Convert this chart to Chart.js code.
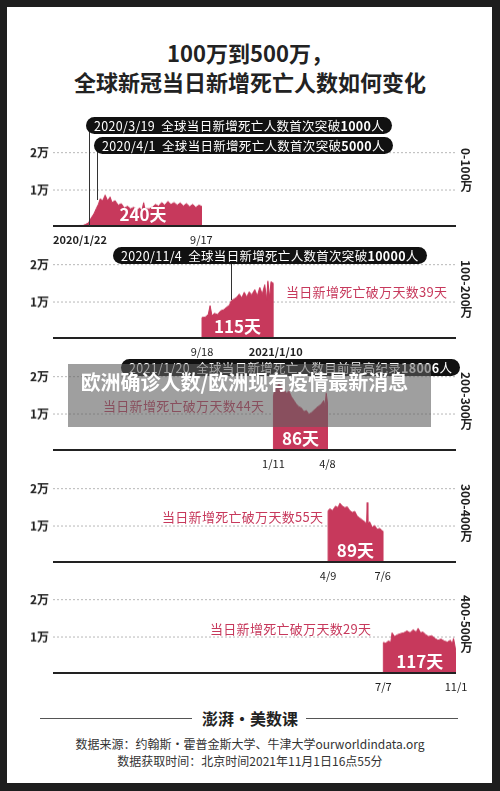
<!DOCTYPE html>
<html><head><meta charset="utf-8">
<script src="https://cdn.jsdelivr.net/npm/chart.js@4"></script>
<style>
body{margin:0;background:#1e1e1e;font-family:"Noto Sans CJK SC","Noto Sans",sans-serif;}
#frame{position:absolute;left:7px;top:7px;width:485px;height:776px;background:#fff;}
#root{position:absolute;left:0;top:0;width:500px;height:791px;}
.t{position:absolute;white-space:nowrap;}
canvas{position:absolute;left:0;}
.pill{position:absolute;background:#111;color:#fff;border-radius:9px;font-size:12.5px;line-height:17px;height:17px;padding:0 8px;white-space:nowrap;letter-spacing:0.3px;}
.vl{position:absolute;width:1px;background:#333;}
.red{position:absolute;color:#c7395c;font-size:13px;white-space:nowrap;letter-spacing:0.3px;}
.days{position:absolute;color:#fff;font-weight:700;font-size:17px;line-height:20px;transform:translateX(-50%);white-space:nowrap;}
.xl{position:absolute;font-size:11px;color:#222;transform:translateX(-50%);}
.rl{position:absolute;writing-mode:vertical-rl;font-size:12px;color:#222;font-weight:600;}
.base{position:absolute;left:53px;width:403px;height:2px;background:#222;}
</style></head><body>
<div id="frame"></div>
<div id="root">
<div class="t" style="left:0;width:500px;text-align:center;top:36px;font-size:22px;font-weight:700;color:#222">100万到500万，</div>
<div class="t" style="left:0;width:500px;text-align:center;top:65px;font-size:22px;font-weight:700;color:#222">全球新冠当日新增死亡人数如何变化</div>
</div>
<script>
const yTicks=[0,10000,20000];
const tickLabels=['','1万','2万'];
const panelRanges=['0-100万','100-200万','200-300万','300-400万','400-500万'];
const dayCounts=['240天','115天','86天','89天','117天'];
const redLabels=[null,'当日新增死亡破万天数39天','当日新增死亡破万天数44天','当日新增死亡破万天数55天','当日新增死亡破万天数29天'];
const startLabels=['2020/1/22','9/18','1/11','4/9','7/7'];
const endLabels=['9/17','2021/1/10','4/8','7/6','11/1'];

const p1Days=[0,40,48,52,57,62,66,70,73,76,80,84,88,92,95,100,105,110,115,120,125,130,135,140,143,146,148,155,160,165,170,175,180,185,190,195,200,205,210,215,220,225,230,235,239,239];
const p1Deaths=[0,100,300,600,1000,2500,3500,5000,6000,7500,7000,8500,7000,8000,6500,7000,5800,6200,5000,5500,4800,5200,4500,5000,4200,6500,4800,4800,5200,6000,5500,6500,5800,6800,6000,6500,5800,6400,5600,6200,5400,6000,5200,5800,5500,0];
const p2Days=[240,240,245,250,253,256,260,265,270,275,280,284,287,290,295,300,304,308,312,316,320,325,329,333,337,341,344,346,349,351,354,354];
const p2Deaths=[0,5700,5800,6500,8900,6200,6800,6500,7500,7800,8500,9000,10200,10500,11000,12000,11000,12500,11200,12600,11800,13200,11500,13800,12000,14500,10500,15500,11000,15300,15000,0];
const p3Days=[355,355,358,362,364,368,372,376,380,384,388,392,396,400,404,408,412,416,420,424,428,432,436,438,440,442,442];
const p3Deaths=[0,15000,16500,17500,18006,17000,16500,15500,16000,14500,13500,12500,11800,11500,10500,10800,9800,10200,10800,11500,12000,12500,13500,12000,15500,13000,0];
const p4Days=[443,443,446,450,455,459,462,466,470,474,478,482,486,490,494,498,502,505,506,507,510,514,518,522,526,529,531,531];
const p4Deaths=[0,14000,14500,14000,15200,14800,16000,15200,14800,15000,14000,13500,13800,12500,12000,11500,11000,10500,16200,10500,11000,9500,10000,9000,9200,8800,8500,0];
const p5Days=[532,532,536,540,544,546,550,555,560,565,570,575,580,585,588,592,596,600,605,610,615,620,625,630,635,640,643,645,647,649,649];
const p5Deaths=[0,8400,8200,8800,8500,11000,10000,10500,10800,11000,11500,11000,11800,11200,12200,11000,11200,10500,10000,10200,9500,9000,9300,8800,8500,9000,8000,9500,7800,5700,0];
const totalDays=649;

const panels=[[p1Days,p1Deaths],[p2Days,p2Deaths],[p3Days,p3Deaths],[p4Days,p4Deaths],[p5Days,p5Deaths]];
const baselines=[226,338,450,562,673];
const root=document.getElementById('root');
function add(html){root.insertAdjacentHTML('beforeend',html);}
const RED='#c7395c';
const px=d=>53+d*403/totalDays;
const AREA=74;

function build(c,p,padR,h){
  c.width=500;c.height=h;c.style.width='500px';c.style.height=h+'px';
  return new Chart(c,{type:'line',
    data:{datasets:[{data:p[0].map((d,k)=>({x:d,y:p[1][k]})),borderColor:RED,backgroundColor:RED,borderWidth:1,pointRadius:0,fill:'origin',tension:0}]},
    options:{responsive:false,animation:false,devicePixelRatio:1,
      layout:{padding:{left:0,right:padR,top:0,bottom:0}},
      plugins:{legend:{display:false},tooltip:{enabled:false}},
      scales:{
        x:{type:'linear',display:false,min:0,max:totalDays},
        y:{min:0,max:20000,afterFit:s=>{s.width=53;},afterBuildTicks:s=>{s.ticks=yTicks.map(v=>({value:v}));},
          ticks:{callback:(v)=>tickLabels[yTicks.indexOf(v)],color:'#222',font:{family:'Noto Sans CJK SC',size:12,weight:'600'},padding:4},
          grid:{color:'#bbb',drawTicks:false,lineWidth:1},border:{display:false,dash:[2,2]}}
      }}});
}

panels.forEach((p,i)=>{
  const b=baselines[i];
  const c=document.createElement('canvas');
  root.appendChild(c);
  let ch=build(c,p,44,100);
  let a=ch.chartArea;
  const padR=44+(a.right-456)-(53-a.left);
  const h=100+(AREA-(a.bottom-a.top));
  ch.destroy();
  ch=build(c,p,padR,h);
  a=ch.chartArea;
  c.style.top=(b-a.bottom)+'px';
  c.style.left=(53-a.left)+'px';
  add(`<div class="base" style="top:${b-1}px"></div>`);
  add(`<div class="rl" style="left:458px;top:${b-78}px">${panelRanges[i]}</div>`);
  const s=p[0][0],e=p[0][p[0].length-1];
  add(`<div class="xl" style="left:${i==0?80:px(s)}px;top:${b+5}px;${i==0?'font-weight:700':''}">${startLabels[i]}</div>`);
  add(`<div class="xl" style="left:${px(e)+(i==1?3:0)}px;top:${b+5}px;${i==1?'font-weight:700':''}">${endLabels[i]}</div>`);
  const cx=i==0?143:(px(s)+px(e))/2;
  add(`<div class="days" style="left:${cx}px;top:${b-22}px">${dayCounts[i]}</div>`);
});
add(`<div class="red" style="left:286px;top:282px">${redLabels[1]}</div>`);
add(`<div class="red" style="left:103px;top:396px">${redLabels[2]}</div>`);
add(`<div class="red" style="left:162px;top:507px">${redLabels[3]}</div>`);
add(`<div class="red" style="left:210px;top:619px">${redLabels[4]}</div>`);
add(`<div class="vl" style="left:89px;top:125px;height:101px"></div>`);
add(`<div class="vl" style="left:97px;top:145px;height:55px"></div>`);
add(`<div class="vl" style="left:231px;top:255px;height:45px"></div>`);
add(`<div class="pill" style="left:86px;top:117px">2020/3/19&nbsp; 全球当日新增死亡人数首次突破<b>1000</b>人</div>`);
add(`<div class="pill" style="left:94px;top:137px">2020/4/1&nbsp; 全球当日新增死亡人数首次突破<b>5000</b>人</div>`);
add(`<div class="pill" style="left:113px;top:247px">2020/11/4&nbsp; 全球当日新增死亡人数首次突破<b>10000</b>人</div>`);
add(`<div class="pill" style="left:121px;top:359px">2021/1/20&nbsp; 全球当日新增死亡人数目前最高纪录<b>18006</b>人</div>`);
add(`<div style="position:absolute;left:68px;top:364px;width:363px;height:63px;background:rgba(95,95,95,0.6);color:#fff;font-weight:700;font-size:20px;line-height:26px;padding:5px 20px 0 10px;box-sizing:border-box;text-align:center">欧洲确诊人数/欧洲现有疫情最新消息</div>`);
add(`<div style="position:absolute;left:40px;top:718px;width:152px;height:1px;background:#555"></div>`);
add(`<div style="position:absolute;left:306px;top:718px;width:152px;height:1px;background:#555"></div>`);
add(`<div class="t" style="left:0;width:500px;text-align:center;top:706px;font-size:16px;font-weight:700;color:#222">澎湃·美数课</div>`);
add(`<div class="t" style="left:0;width:500px;text-align:center;top:735px;font-size:12px;color:#333">数据来源：约翰斯·霍普金斯大学、牛津大学ourworldindata.org</div>`);
add(`<div class="t" style="left:0;width:500px;text-align:center;top:752px;font-size:12px;color:#333">数据获取时间：北京时间2021年11月1日16点55分</div>`);
</script>
</body></html>
